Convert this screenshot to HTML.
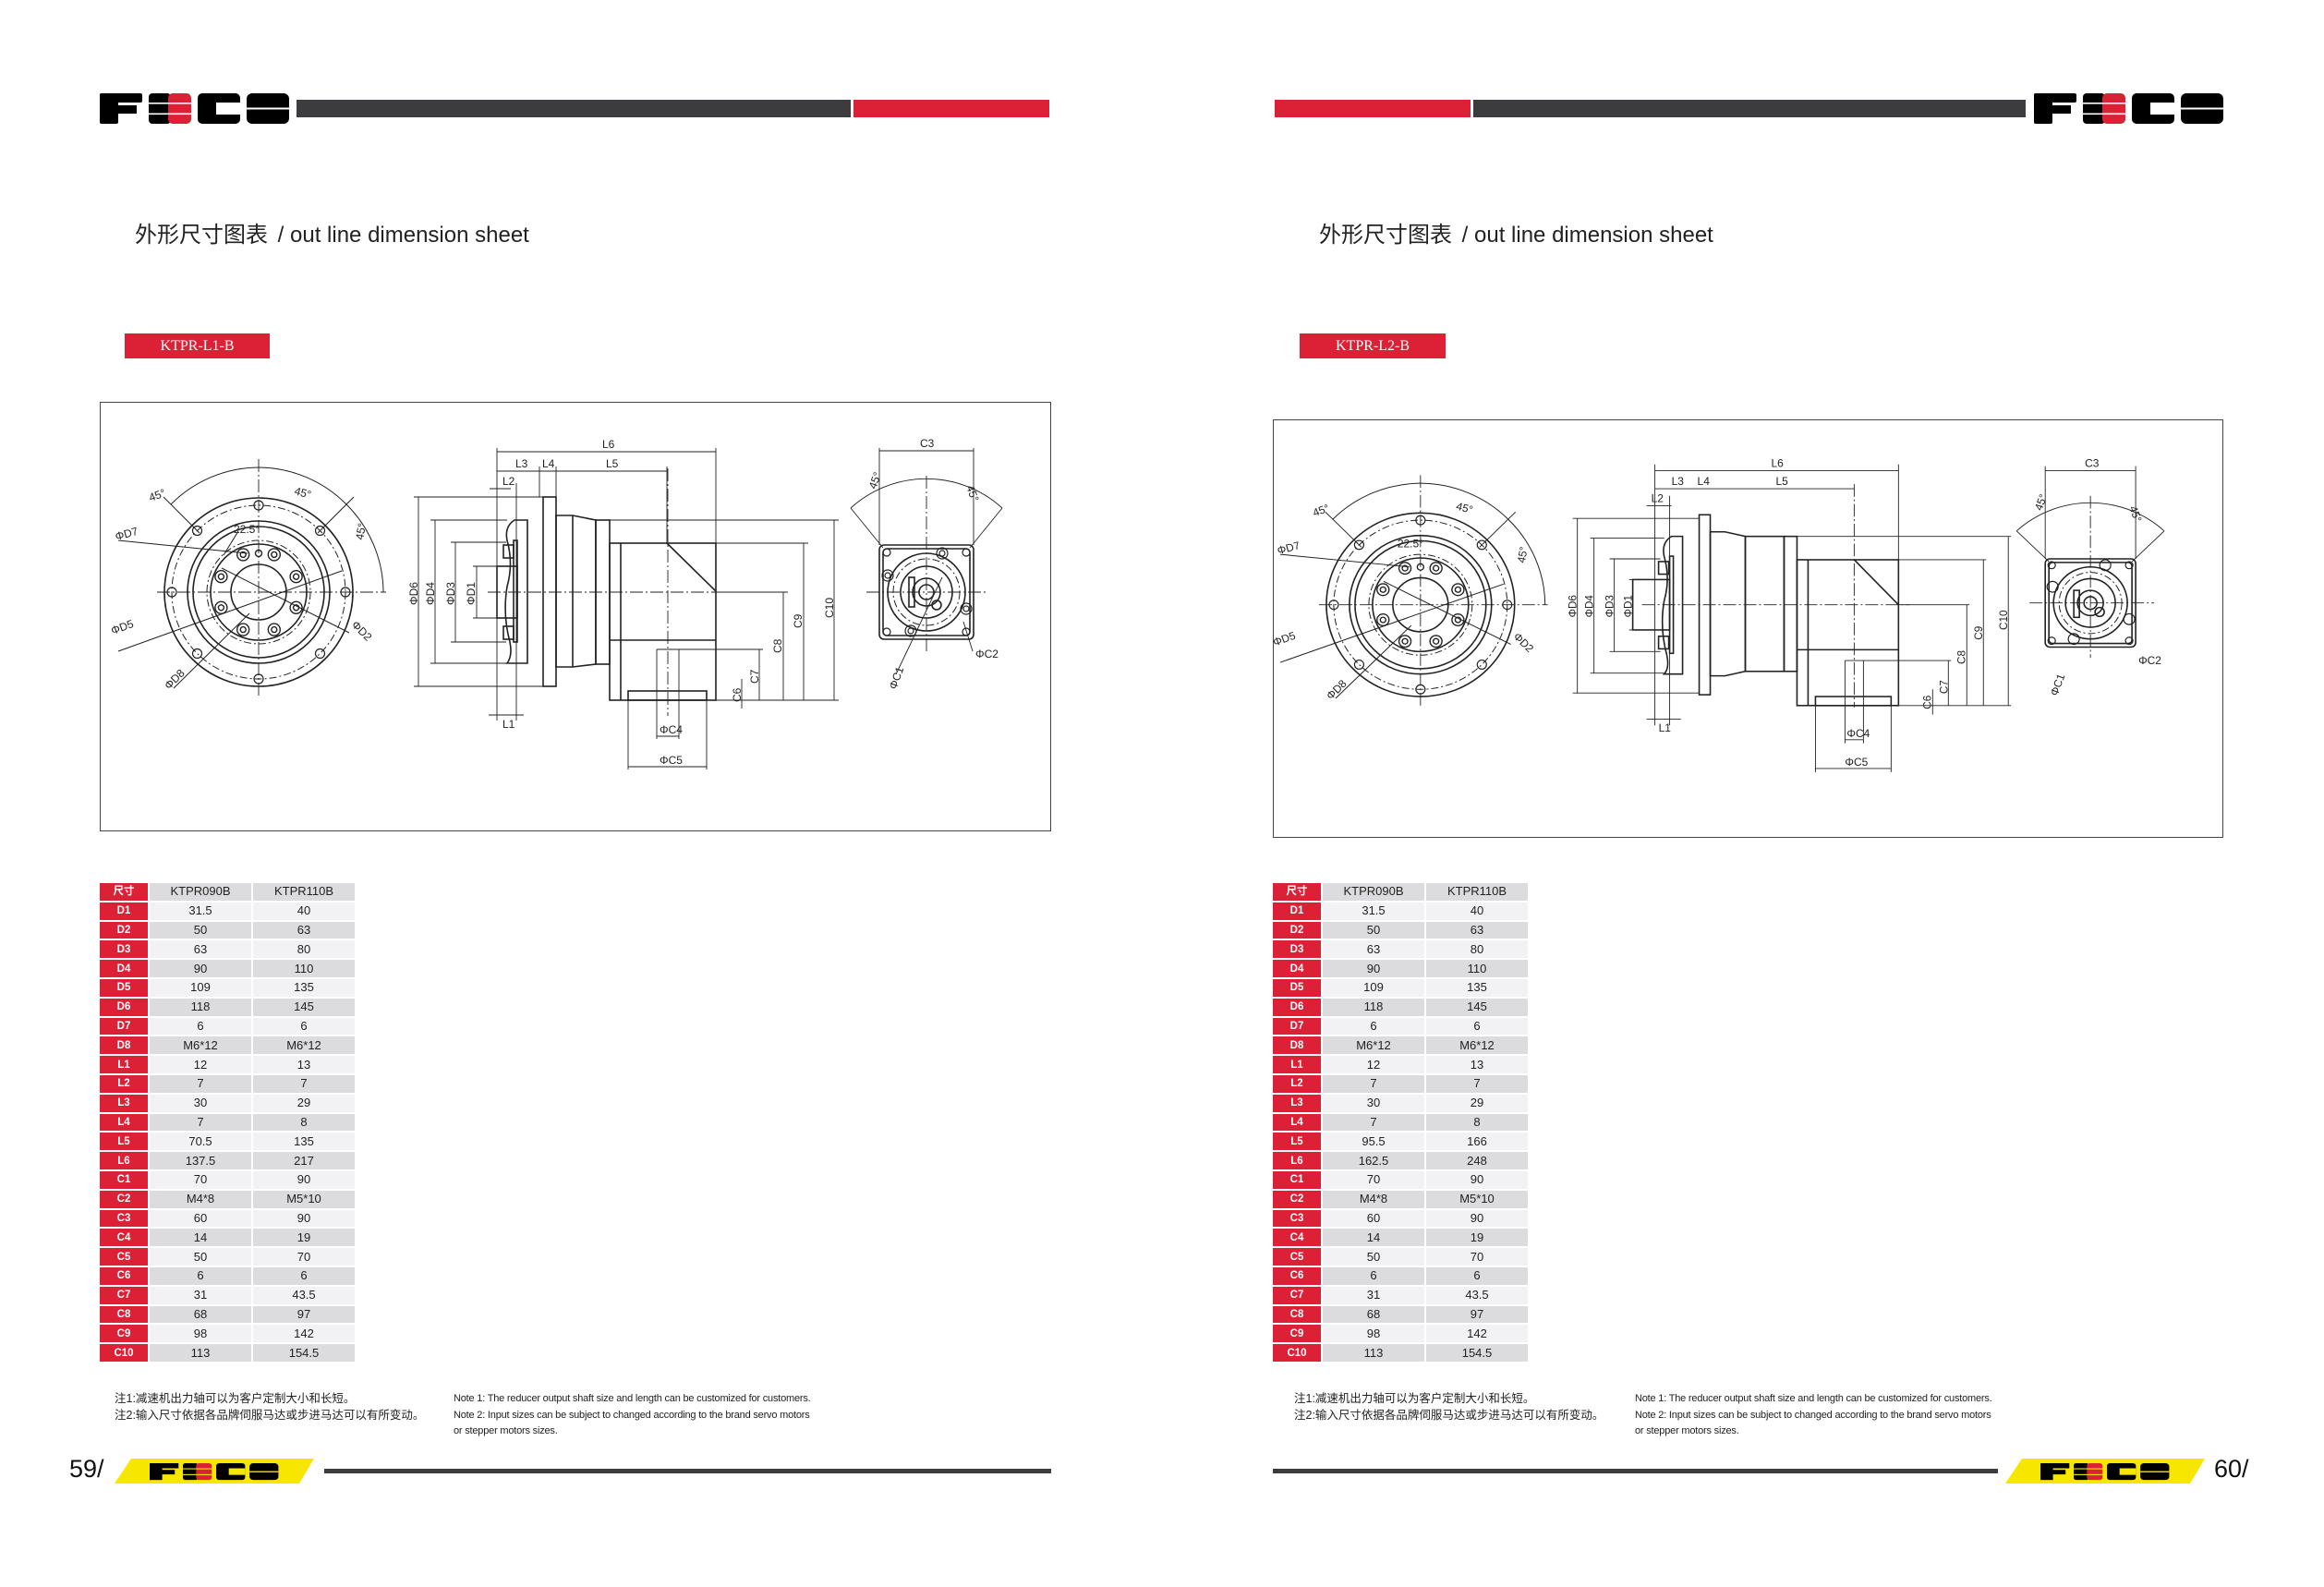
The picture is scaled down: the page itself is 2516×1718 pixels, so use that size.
<!DOCTYPE html>
<html><head><meta charset="utf-8">
<style>
*{margin:0;padding:0;box-sizing:border-box}
body{width:2516px;height:1718px;background:#fff;position:relative;overflow:hidden;font-family:"Liberation Sans","Noto Sans CJK SC",sans-serif;color:#222}
.a{position:absolute}
.title{font-size:24px;color:#222;white-space:nowrap}
.lab{background:#dc2035;color:#fff;font-family:"Liberation Serif","Noto Serif CJK SC",serif;font-size:16px;text-align:center;line-height:27px}
table{border-collapse:separate;border-spacing:2px;position:absolute}
td{height:18.8px;font-size:13px;text-align:center;padding:0;line-height:18px}
td.k{background:#dc2035;color:#fff;width:52px;font-weight:bold;font-size:11.5px}
td.v{width:110px}
tr.l td.v{background:#f2f2f4}
tr.g td.v{background:#dcdcde}
.note{font-size:12.5px;line-height:17.5px;white-space:nowrap;color:#222}
.noteE{font-size:11px;line-height:17.5px;white-space:nowrap;color:#222;letter-spacing:-0.2px}
.pg{font-size:27px;color:#111}
svg text{font-family:"Liberation Sans",sans-serif}
</style></head><body>

<!-- LEFT PAGE HEADER -->
<svg class="a" style="left:108px;top:101px" width="205" height="33" viewBox="0 0 205 33">
<rect x="0" y="0" width="46" height="10" rx="2" fill="#000"/><rect x="0" y="0" width="20" height="33" rx="2" fill="#000"/><rect x="0" y="13" width="40" height="9" fill="#000"/>
<rect x="53" y="0" width="24" height="33" rx="4" fill="#000"/><rect x="74" y="0" width="25" height="33" rx="5" fill="#dc2035"/><rect x="53" y="10" width="46" height="1.6" fill="#fff"/><rect x="53" y="21.5" width="46" height="1.6" fill="#fff"/>
<rect x="106" y="0" width="46" height="33" rx="5" fill="#000"/><rect x="126" y="10" width="26" height="13" fill="#fff"/>
<rect x="159" y="0" width="46" height="33" rx="6" fill="#000"/><rect x="159" y="15.5" width="46" height="2" fill="#fff"/>
</svg>
<div class="a" style="left:321px;top:108px;width:600px;height:19px;background:#3c3c3e"></div>
<div class="a" style="left:924px;top:108px;width:212px;height:19px;background:#dc2035"></div>
<div class="a title" style="left:146px;top:234px">外形尺寸图表 <span style="margin-left:4px">/ out line dimension sheet</span></div>
<div class="a lab" style="left:135px;top:361px;width:157px;height:27px">KTPR-L1-B</div>
<div class="a" style="left:108px;top:435px;width:1030px;height:465px;border:1.5px solid #444"></div>

<!-- RIGHT PAGE HEADER -->
<div class="a" style="left:1380px;top:108px;width:212px;height:19px;background:#dc2035"></div>
<div class="a" style="left:1595px;top:108px;width:598px;height:19px;background:#3c3c3e"></div>
<svg class="a" style="left:2202px;top:101px" width="205" height="33" viewBox="0 0 205 33">
<rect x="0" y="0" width="46" height="10" rx="2" fill="#000"/><rect x="0" y="0" width="20" height="33" rx="2" fill="#000"/><rect x="0" y="13" width="40" height="9" fill="#000"/>
<rect x="53" y="0" width="24" height="33" rx="4" fill="#000"/><rect x="74" y="0" width="25" height="33" rx="5" fill="#dc2035"/><rect x="53" y="10" width="46" height="1.6" fill="#fff"/><rect x="53" y="21.5" width="46" height="1.6" fill="#fff"/>
<rect x="106" y="0" width="46" height="33" rx="5" fill="#000"/><rect x="126" y="10" width="26" height="13" fill="#fff"/>
<rect x="159" y="0" width="46" height="33" rx="6" fill="#000"/><rect x="159" y="15.5" width="46" height="2" fill="#fff"/>
</svg>
<div class="a title" style="left:1428px;top:234px">外形尺寸图表 <span style="margin-left:4px">/ out line dimension sheet</span></div>
<div class="a lab" style="left:1407px;top:361px;width:158px;height:27px">KTPR-L2-B</div>
<div class="a" style="left:1378px;top:454px;width:1029px;height:453px;border:1.5px solid #444"></div>

<!-- DRAWINGS -->
<svg class="a" style="left:108px;top:435px" width="1030" height="465" viewBox="0 0 1030 465">
<g fill="none" stroke="#222" stroke-width="1.6">
<circle cx="172" cy="206" r="102"/><circle cx="172" cy="206" r="94" stroke-dasharray="8 3 2 3" stroke-width="1"/>
<circle cx="172" cy="206" r="77"/><circle cx="172" cy="206" r="71"/><circle cx="172" cy="206" r="56" stroke-dasharray="8 3 2 3" stroke-width="1"/><circle cx="172" cy="206" r="52"/><circle cx="172" cy="206" r="30"/>
<g stroke-width="1.2"><circle cx="266" cy="206" r="5"/><circle cx="78" cy="206" r="5"/><circle cx="172" cy="112" r="5"/><circle cx="172" cy="300" r="5"/><circle cx="238.5" cy="139.5" r="5"/><circle cx="105.5" cy="139.5" r="5"/><circle cx="238.5" cy="272.5" r="5"/><circle cx="105.5" cy="272.5" r="5"/></g>
<g stroke-width="1.4"><circle cx="212.6" cy="189.2" r="6.5"/><circle cx="131.4" cy="189.2" r="6.5"/><circle cx="212.6" cy="222.8" r="6.5"/><circle cx="131.4" cy="222.8" r="6.5"/><circle cx="188.8" cy="165.4" r="6.5"/><circle cx="155.2" cy="165.4" r="6.5"/><circle cx="188.8" cy="246.6" r="6.5"/><circle cx="155.2" cy="246.6" r="6.5"/>
<circle cx="212.6" cy="189.2" r="3"/><circle cx="131.4" cy="189.2" r="3"/><circle cx="212.6" cy="222.8" r="3"/><circle cx="131.4" cy="222.8" r="3"/><circle cx="188.8" cy="165.4" r="3"/><circle cx="155.2" cy="165.4" r="3"/><circle cx="188.8" cy="246.6" r="3"/><circle cx="155.2" cy="246.6" r="3"/><circle cx="172" cy="164" r="3.5"/></g>
<g stroke-width="0.9" stroke-dasharray="14 3 2 3"><line x1="62" y1="206" x2="310" y2="206"/><line x1="172" y1="62" x2="172" y2="320"/></g>
<g stroke-width="1"><path d="M77,111 A135,135 0 0 1 172,71 A135,135 0 0 1 267,111 A135,135 0 0 1 307,206"/>
<line x1="69" y1="103" x2="108" y2="142"/><line x1="275" y1="103" x2="236" y2="142"/>
<line x1="20" y1="150" x2="160" y2="164"/><line x1="20" y1="270" x2="262" y2="183"/><line x1="80" y1="310" x2="162" y2="229"/><line x1="270" y1="250" x2="132" y2="180"/>
<line x1="150" y1="140" x2="134" y2="166"/></g>
<g stroke-width="0.9" stroke-dasharray="14 3 2 3"><line x1="420" y1="206" x2="680" y2="206"/><line x1="615" y1="72" x2="615" y2="340"/></g>
<rect x="480" y="103" width="14" height="205"/>
<path d="M463,128 L449,128 Q438,135 441,150 Q448,175 441,200 Q436,230 444,260 Q447,275 441,283 L463,283 Z"/>
<rect x="448" y="150" width="4" height="110"/><rect x="430" y="178" width="22" height="56"/>
<rect x="437" y="155" width="11" height="14"/><rect x="437" y="243" width="11" height="14"/>
<path d="M494,123 L512,123 L537,128 L537,284 L512,287 L494,287 Z"/><line x1="512" y1="123" x2="512" y2="287"/>
<rect x="537" y="128" width="15" height="156"/>
<rect x="552" y="153" width="115" height="170"/><line x1="564" y1="153" x2="564" y2="323"/><line x1="552" y1="258" x2="667" y2="258"/>
<line x1="614" y1="153" x2="667" y2="205"/>
<rect x="572" y="313" width="85" height="10"/>
<g stroke-width="0.9">
<line x1="340" y1="103" x2="480" y2="103"/><line x1="340" y1="308" x2="480" y2="308"/><line x1="345" y1="103" x2="345" y2="308"/>
<line x1="358" y1="128" x2="441" y2="128"/><line x1="358" y1="283" x2="441" y2="283"/><line x1="363" y1="128" x2="363" y2="283"/>
<line x1="380" y1="152" x2="440" y2="152"/><line x1="380" y1="260" x2="440" y2="260"/><line x1="385" y1="152" x2="385" y2="260"/>
<line x1="404" y1="178" x2="430" y2="178"/><line x1="404" y1="234" x2="430" y2="234"/><line x1="408" y1="178" x2="408" y2="234"/>
<line x1="430" y1="50" x2="430" y2="345"/><line x1="667" y1="50" x2="667" y2="153"/><line x1="451" y1="88" x2="451" y2="345"/><line x1="476" y1="70" x2="476" y2="103"/><line x1="494" y1="70" x2="494" y2="103"/><line x1="614" y1="70" x2="614" y2="153"/>
<line x1="430" y1="54" x2="667" y2="54"/><line x1="430" y1="75" x2="614" y2="75"/>
<line x1="422" y1="94" x2="445" y2="94"/><line x1="421" y1="339" x2="459" y2="339"/>
<line x1="552" y1="128" x2="800" y2="128"/><line x1="667" y1="153" x2="767" y2="153"/><line x1="667" y1="206" x2="745" y2="206"/><line x1="603" y1="268" x2="718" y2="268"/><line x1="657" y1="323" x2="800" y2="323"/>
<line x1="795" y1="128" x2="795" y2="323"/><line x1="762" y1="153" x2="762" y2="323"/><line x1="740" y1="206" x2="740" y2="323"/><line x1="714" y1="268" x2="714" y2="323"/><line x1="695" y1="300" x2="695" y2="332"/>
<line x1="603" y1="268" x2="603" y2="365"/><line x1="627" y1="268" x2="627" y2="365"/><line x1="603" y1="362" x2="627" y2="362"/>
<line x1="572" y1="323" x2="572" y2="398"/><line x1="657" y1="323" x2="657" y2="398"/><line x1="572" y1="395" x2="657" y2="395"/>
</g>
<rect x="844" y="155" width="102" height="102" rx="5"/><rect x="848" y="159" width="94" height="94" rx="4"/>
<circle cx="895" cy="206" r="42"/><circle cx="895" cy="206" r="36" stroke-dasharray="8 3 2 3" stroke-width="1"/><circle cx="895" cy="206" r="28"/><circle cx="895" cy="206" r="15"/><circle cx="895" cy="206" r="8"/><circle cx="906" cy="220" r="5"/>
<g stroke-width="1.2"><circle cx="852" cy="163" r="4"/><circle cx="938" cy="163" r="4"/><circle cx="852" cy="249" r="4"/><circle cx="938" cy="249" r="4"/>
<circle cx="912" cy="164" r="6"/><circle cx="912" cy="164" r="3"/><circle cx="853" cy="188" r="6"/><circle cx="853" cy="188" r="3"/><circle cx="938" cy="224" r="6"/><circle cx="938" cy="224" r="3"/><circle cx="878" cy="248" r="6"/><circle cx="878" cy="248" r="3"/></g>
<rect x="876" y="190" width="6" height="32"/>
<g stroke-width="0.9"><path d="M813,115 A122,122 0 0 1 977,115"/><line x1="813" y1="115" x2="848" y2="158"/><line x1="977" y1="115" x2="942" y2="158"/>
<line x1="895" y1="80" x2="895" y2="270" stroke-dasharray="14 3 2 3"/><line x1="830" y1="206" x2="960" y2="206" stroke-dasharray="14 3 2 3"/>
<line x1="844" y1="50" x2="844" y2="155"/><line x1="946" y1="50" x2="946" y2="155"/><line x1="844" y1="53" x2="946" y2="53"/>
<line x1="862" y1="295" x2="912" y2="190"/><line x1="945" y1="270" x2="935" y2="238"/></g>
</g>
<g font-size="12" fill="#222">
<text x="55" y="108" transform="rotate(-20 55 108)">45°</text><text x="210" y="100" transform="rotate(15 210 100)">45°</text><text x="285" y="150" transform="rotate(-80 285 150)">45°</text>
<text x="145" y="142">22.5°</text>
<text x="18" y="150" transform="rotate(-15 18 150)">ΦD7</text><text x="14" y="252" transform="rotate(-20 14 252)">ΦD5</text><text x="75" y="312" transform="rotate(-45 75 312)">ΦD8</text><text x="272" y="242" transform="rotate(45 272 242)">ΦD2</text>
<text x="344" y="220" transform="rotate(-90 344 220)">ΦD6</text><text x="362" y="220" transform="rotate(-90 362 220)">ΦD4</text><text x="384" y="220" transform="rotate(-90 384 220)">ΦD3</text><text x="406" y="220" transform="rotate(-90 406 220)">ΦD1</text>
<text x="544" y="50">L6</text><text x="450" y="71">L3</text><text x="479" y="71">L4</text><text x="548" y="71">L5</text><text x="436" y="90">L2</text><text x="436" y="353">L1</text>
<text x="794" y="234" transform="rotate(-90 794 234)">C10</text><text x="760" y="245" transform="rotate(-90 760 245)">C9</text><text x="738" y="272" transform="rotate(-90 738 272)">C8</text><text x="713" y="305" transform="rotate(-90 713 305)">C7</text><text x="694" y="325" transform="rotate(-90 694 325)">C6</text>
<text x="606" y="359">ΦC4</text><text x="606" y="392">ΦC5</text>
<text x="888" y="49">C3</text><text x="840" y="95" transform="rotate(-70 840 95)">45°</text><text x="938" y="92" transform="rotate(70 938 92)">45°</text>
<text x="862" y="312" transform="rotate(-70 862 312)">ΦC1</text><text x="948" y="277">ΦC2</text>
</g>
</svg>

<svg class="a" style="left:1378px;top:454px" width="1029" height="453" viewBox="0 0 1030 465" preserveAspectRatio="none">
<g fill="none" stroke="#222" stroke-width="1.6" transform="translate(-12,0)">
<circle cx="172" cy="206" r="102"/><circle cx="172" cy="206" r="94" stroke-dasharray="8 3 2 3" stroke-width="1"/>
<circle cx="172" cy="206" r="77"/><circle cx="172" cy="206" r="71"/><circle cx="172" cy="206" r="56" stroke-dasharray="8 3 2 3" stroke-width="1"/><circle cx="172" cy="206" r="52"/><circle cx="172" cy="206" r="30"/>
<g stroke-width="1.2"><circle cx="266" cy="206" r="5"/><circle cx="78" cy="206" r="5"/><circle cx="172" cy="112" r="5"/><circle cx="172" cy="300" r="5"/><circle cx="238.5" cy="139.5" r="5"/><circle cx="105.5" cy="139.5" r="5"/><circle cx="238.5" cy="272.5" r="5"/><circle cx="105.5" cy="272.5" r="5"/></g>
<g stroke-width="1.4"><circle cx="212.6" cy="189.2" r="6.5"/><circle cx="131.4" cy="189.2" r="6.5"/><circle cx="212.6" cy="222.8" r="6.5"/><circle cx="131.4" cy="222.8" r="6.5"/><circle cx="188.8" cy="165.4" r="6.5"/><circle cx="155.2" cy="165.4" r="6.5"/><circle cx="188.8" cy="246.6" r="6.5"/><circle cx="155.2" cy="246.6" r="6.5"/>
<circle cx="212.6" cy="189.2" r="3"/><circle cx="131.4" cy="189.2" r="3"/><circle cx="212.6" cy="222.8" r="3"/><circle cx="131.4" cy="222.8" r="3"/><circle cx="188.8" cy="165.4" r="3"/><circle cx="155.2" cy="165.4" r="3"/><circle cx="188.8" cy="246.6" r="3"/><circle cx="155.2" cy="246.6" r="3"/><circle cx="172" cy="164" r="3.5"/></g>
<g stroke-width="0.9" stroke-dasharray="14 3 2 3"><line x1="62" y1="206" x2="310" y2="206"/><line x1="172" y1="62" x2="172" y2="320"/></g>
<g stroke-width="1"><path d="M77,111 A135,135 0 0 1 172,71 A135,135 0 0 1 267,111 A135,135 0 0 1 307,206"/>
<line x1="69" y1="103" x2="108" y2="142"/><line x1="275" y1="103" x2="236" y2="142"/>
<line x1="20" y1="150" x2="160" y2="164"/><line x1="20" y1="270" x2="262" y2="183"/><line x1="80" y1="310" x2="162" y2="229"/><line x1="270" y1="250" x2="132" y2="180"/></g>
</g>
<g fill="none" stroke="#222" stroke-width="1.6">
<g stroke-width="0.9" stroke-dasharray="14 3 2 3"><line x1="400" y1="206" x2="690" y2="206"/><line x1="630" y1="72" x2="630" y2="320"/></g>
<rect x="462" y="106" width="12" height="200"/>
<path d="M444,130 L432,130 Q421,137 424,152 Q431,177 424,202 Q419,232 427,262 Q430,277 424,283 L444,283 Z"/>
<rect x="430" y="152" width="4" height="108"/><rect x="390" y="178" width="40" height="56"/>
<rect x="418" y="158" width="11" height="14"/><rect x="418" y="241" width="11" height="14"/>
<path d="M474,125 L490,125 L512,130 L512,280 L490,285 L474,285 Z"/>
<rect x="512" y="130" width="42" height="150"/><rect x="554" y="130" width="14" height="150"/>
<rect x="568" y="156" width="110" height="162"/><line x1="580" y1="156" x2="580" y2="318"/><line x1="568" y1="256" x2="678" y2="256"/>
<line x1="630" y1="156" x2="678" y2="206"/>
<rect x="588" y="308" width="82" height="10"/>
<g stroke-width="0.9">
<line x1="325" y1="110" x2="462" y2="110"/><line x1="325" y1="304" x2="462" y2="304"/><line x1="330" y1="110" x2="330" y2="304"/>
<line x1="344" y1="132" x2="424" y2="132"/><line x1="344" y1="282" x2="424" y2="282"/><line x1="348" y1="132" x2="348" y2="282"/>
<line x1="365" y1="155" x2="420" y2="155"/><line x1="365" y1="258" x2="420" y2="258"/><line x1="370" y1="155" x2="370" y2="258"/>
<line x1="386" y1="178" x2="395" y2="178"/><line x1="386" y1="234" x2="395" y2="234"/>
<line x1="414" y1="50" x2="414" y2="340"/><line x1="678" y1="50" x2="678" y2="156"/><line x1="430" y1="85" x2="430" y2="340"/>
<line x1="414" y1="57" x2="678" y2="57"/><line x1="414" y1="77" x2="630" y2="77"/>
<line x1="405" y1="96" x2="432" y2="96"/><line x1="405" y1="333" x2="442" y2="333"/>
<line x1="568" y1="130" x2="800" y2="130"/><line x1="678" y1="156" x2="773" y2="156"/><line x1="678" y1="206" x2="755" y2="206"/><line x1="620" y1="268" x2="735" y2="268"/><line x1="670" y1="318" x2="800" y2="318"/>
<line x1="797" y1="130" x2="797" y2="318"/><line x1="770" y1="156" x2="770" y2="318"/><line x1="752" y1="206" x2="752" y2="318"/><line x1="732" y1="268" x2="732" y2="318"/><line x1="715" y1="300" x2="715" y2="328"/>
<line x1="620" y1="268" x2="620" y2="360"/><line x1="640" y1="268" x2="640" y2="360"/><line x1="620" y1="356" x2="640" y2="356"/>
<line x1="588" y1="318" x2="588" y2="392"/><line x1="670" y1="318" x2="670" y2="392"/><line x1="588" y1="388" x2="670" y2="388"/>
</g>
<rect x="837" y="155" width="98" height="98" rx="5"/><rect x="841" y="159" width="90" height="90" rx="4"/>
<circle cx="886" cy="204" r="40"/><circle cx="886" cy="204" r="34" stroke-dasharray="8 3 2 3" stroke-width="1"/><circle cx="886" cy="204" r="27"/><circle cx="886" cy="204" r="14"/><circle cx="886" cy="204" r="7"/><circle cx="896" cy="214" r="5"/>
<g stroke-width="1.2"><circle cx="844" cy="162" r="4"/><circle cx="928" cy="162" r="4"/><circle cx="844" cy="246" r="4"/><circle cx="928" cy="246" r="4"/>
<circle cx="902" cy="162" r="6"/><circle cx="845" cy="186" r="6"/><circle cx="928" cy="222" r="6"/><circle cx="868" cy="244" r="6"/></g>
<rect x="868" y="190" width="6" height="30"/>
<g stroke-width="0.9"><path d="M806,124 A118,118 0 0 1 966,124"/><line x1="806" y1="124" x2="841" y2="158"/><line x1="966" y1="124" x2="931" y2="158"/>
<line x1="886" y1="85" x2="886" y2="265" stroke-dasharray="14 3 2 3"/><line x1="820" y1="204" x2="955" y2="204" stroke-dasharray="14 3 2 3"/>
<line x1="837" y1="52" x2="837" y2="155"/><line x1="935" y1="52" x2="935" y2="155"/><line x1="837" y1="57" x2="935" y2="57"/></g>
</g>
<g font-size="12" fill="#222">
<text x="45" y="108" transform="rotate(-20 45 108)">45°</text><text x="198" y="100" transform="rotate(15 198 100)">45°</text><text x="273" y="160" transform="rotate(-80 273 160)">45°</text>
<text x="135" y="142">22.5°</text>
<text x="6" y="150" transform="rotate(-15 6 150)">ΦD7</text><text x="2" y="252" transform="rotate(-20 2 252)">ΦD5</text><text x="63" y="312" transform="rotate(-45 63 312)">ΦD8</text><text x="260" y="242" transform="rotate(45 260 242)">ΦD2</text>
<text x="329" y="220" transform="rotate(-90 329 220)">ΦD6</text><text x="347" y="220" transform="rotate(-90 347 220)">ΦD4</text><text x="369" y="220" transform="rotate(-90 369 220)">ΦD3</text><text x="389" y="220" transform="rotate(-90 389 220)">ΦD1</text>
<text x="540" y="53">L6</text><text x="432" y="73">L3</text><text x="460" y="73">L4</text><text x="545" y="73">L5</text><text x="410" y="92">L2</text><text x="418" y="347">L1</text>
<text x="796" y="234" transform="rotate(-90 796 234)">C10</text><text x="769" y="245" transform="rotate(-90 769 245)">C9</text><text x="750" y="272" transform="rotate(-90 750 272)">C8</text><text x="731" y="305" transform="rotate(-90 731 305)">C7</text><text x="713" y="322" transform="rotate(-90 713 322)">C6</text>
<text x="622" y="353">ΦC4</text><text x="620" y="385">ΦC5</text>
<text x="880" y="53">C3</text><text x="833" y="102" transform="rotate(-70 833 102)">45°</text><text x="928" y="98" transform="rotate(70 928 98)">45°</text>
<text x="850" y="308" transform="rotate(-70 850 308)">ΦC1</text><text x="938" y="272">ΦC2</text>
</g>
</svg>

<!-- TABLES -->
<table style="left:106px;top:954px">
<tr class="g"><td class="k">尺寸</td><td class="v">KTPR090B</td><td class="v">KTPR110B</td></tr>
<tr class="l"><td class="k">D1</td><td class="v">31.5</td><td class="v">40</td></tr>
<tr class="g"><td class="k">D2</td><td class="v">50</td><td class="v">63</td></tr>
<tr class="l"><td class="k">D3</td><td class="v">63</td><td class="v">80</td></tr>
<tr class="g"><td class="k">D4</td><td class="v">90</td><td class="v">110</td></tr>
<tr class="l"><td class="k">D5</td><td class="v">109</td><td class="v">135</td></tr>
<tr class="g"><td class="k">D6</td><td class="v">118</td><td class="v">145</td></tr>
<tr class="l"><td class="k">D7</td><td class="v">6</td><td class="v">6</td></tr>
<tr class="g"><td class="k">D8</td><td class="v">M6*12</td><td class="v">M6*12</td></tr>
<tr class="l"><td class="k">L1</td><td class="v">12</td><td class="v">13</td></tr>
<tr class="g"><td class="k">L2</td><td class="v">7</td><td class="v">7</td></tr>
<tr class="l"><td class="k">L3</td><td class="v">30</td><td class="v">29</td></tr>
<tr class="g"><td class="k">L4</td><td class="v">7</td><td class="v">8</td></tr>
<tr class="l"><td class="k">L5</td><td class="v">70.5</td><td class="v">135</td></tr>
<tr class="g"><td class="k">L6</td><td class="v">137.5</td><td class="v">217</td></tr>
<tr class="l"><td class="k">C1</td><td class="v">70</td><td class="v">90</td></tr>
<tr class="g"><td class="k">C2</td><td class="v">M4*8</td><td class="v">M5*10</td></tr>
<tr class="l"><td class="k">C3</td><td class="v">60</td><td class="v">90</td></tr>
<tr class="g"><td class="k">C4</td><td class="v">14</td><td class="v">19</td></tr>
<tr class="l"><td class="k">C5</td><td class="v">50</td><td class="v">70</td></tr>
<tr class="g"><td class="k">C6</td><td class="v">6</td><td class="v">6</td></tr>
<tr class="l"><td class="k">C7</td><td class="v">31</td><td class="v">43.5</td></tr>
<tr class="g"><td class="k">C8</td><td class="v">68</td><td class="v">97</td></tr>
<tr class="l"><td class="k">C9</td><td class="v">98</td><td class="v">142</td></tr>
<tr class="g"><td class="k">C10</td><td class="v">113</td><td class="v">154.5</td></tr>
</table>
<table style="left:1376px;top:954px">
<tr class="g"><td class="k">尺寸</td><td class="v">KTPR090B</td><td class="v">KTPR110B</td></tr>
<tr class="l"><td class="k">D1</td><td class="v">31.5</td><td class="v">40</td></tr>
<tr class="g"><td class="k">D2</td><td class="v">50</td><td class="v">63</td></tr>
<tr class="l"><td class="k">D3</td><td class="v">63</td><td class="v">80</td></tr>
<tr class="g"><td class="k">D4</td><td class="v">90</td><td class="v">110</td></tr>
<tr class="l"><td class="k">D5</td><td class="v">109</td><td class="v">135</td></tr>
<tr class="g"><td class="k">D6</td><td class="v">118</td><td class="v">145</td></tr>
<tr class="l"><td class="k">D7</td><td class="v">6</td><td class="v">6</td></tr>
<tr class="g"><td class="k">D8</td><td class="v">M6*12</td><td class="v">M6*12</td></tr>
<tr class="l"><td class="k">L1</td><td class="v">12</td><td class="v">13</td></tr>
<tr class="g"><td class="k">L2</td><td class="v">7</td><td class="v">7</td></tr>
<tr class="l"><td class="k">L3</td><td class="v">30</td><td class="v">29</td></tr>
<tr class="g"><td class="k">L4</td><td class="v">7</td><td class="v">8</td></tr>
<tr class="l"><td class="k">L5</td><td class="v">95.5</td><td class="v">166</td></tr>
<tr class="g"><td class="k">L6</td><td class="v">162.5</td><td class="v">248</td></tr>
<tr class="l"><td class="k">C1</td><td class="v">70</td><td class="v">90</td></tr>
<tr class="g"><td class="k">C2</td><td class="v">M4*8</td><td class="v">M5*10</td></tr>
<tr class="l"><td class="k">C3</td><td class="v">60</td><td class="v">90</td></tr>
<tr class="g"><td class="k">C4</td><td class="v">14</td><td class="v">19</td></tr>
<tr class="l"><td class="k">C5</td><td class="v">50</td><td class="v">70</td></tr>
<tr class="g"><td class="k">C6</td><td class="v">6</td><td class="v">6</td></tr>
<tr class="l"><td class="k">C7</td><td class="v">31</td><td class="v">43.5</td></tr>
<tr class="g"><td class="k">C8</td><td class="v">68</td><td class="v">97</td></tr>
<tr class="l"><td class="k">C9</td><td class="v">98</td><td class="v">142</td></tr>
<tr class="g"><td class="k">C10</td><td class="v">113</td><td class="v">154.5</td></tr>
</table>

<!-- NOTES -->
<div class="a note" style="left:124px;top:1506px">注1:减速机出力轴可以为客户定制大小和长短。<br>注2:输入尺寸依据各品牌伺服马达或步进马达可以有所变动。</div>
<div class="a noteE" style="left:491px;top:1506px">Note 1: The reducer output shaft size and length can be customized for customers.<br>Note 2: Input sizes can be subject to changed according to the brand servo motors<br>or stepper motors sizes.</div>
<div class="a note" style="left:1401px;top:1506px">注1:减速机出力轴可以为客户定制大小和长短。<br>注2:输入尺寸依据各品牌伺服马达或步进马达可以有所变动。</div>
<div class="a noteE" style="left:1770px;top:1506px">Note 1: The reducer output shaft size and length can be customized for customers.<br>Note 2: Input sizes can be subject to changed according to the brand servo motors<br>or stepper motors sizes.</div>

<!-- FOOTERS -->
<div class="a pg" style="left:75px;top:1575px">59/</div>
<svg class="a" style="left:124px;top:1579px" width="216" height="27" viewBox="0 0 216 27">
<polygon points="18,0 216,0 200,27 0,27" fill="#f7e600"/>
<g transform="translate(38,5) scale(0.68,0.55)">
<rect x="0" y="0" width="46" height="10" fill="#000"/><rect x="0" y="0" width="20" height="33" fill="#000"/><rect x="0" y="13" width="40" height="9" fill="#000"/>
<rect x="53" y="0" width="24" height="33" rx="4" fill="#000"/><rect x="74" y="0" width="25" height="33" rx="5" fill="#dc2035"/><rect x="53" y="10" width="46" height="2" fill="#f7e600"/><rect x="53" y="21.5" width="46" height="2" fill="#f7e600"/>
<rect x="106" y="0" width="46" height="33" rx="5" fill="#000"/><rect x="126" y="10" width="26" height="13" fill="#f7e600"/>
<rect x="159" y="0" width="46" height="33" rx="6" fill="#000"/><rect x="159" y="15.5" width="46" height="2.5" fill="#f7e600"/>
</g></svg>
<div class="a" style="left:351px;top:1590px;width:787px;height:5px;background:#3c3c3e"></div>

<div class="a" style="left:1378px;top:1590px;width:785px;height:5px;background:#3c3c3e"></div>
<svg class="a" style="left:2171px;top:1579px" width="216" height="27" viewBox="0 0 216 27">
<polygon points="18,0 216,0 200,27 0,27" fill="#f7e600"/>
<g transform="translate(38,5) scale(0.68,0.55)">
<rect x="0" y="0" width="46" height="10" fill="#000"/><rect x="0" y="0" width="20" height="33" fill="#000"/><rect x="0" y="13" width="40" height="9" fill="#000"/>
<rect x="53" y="0" width="24" height="33" rx="4" fill="#000"/><rect x="74" y="0" width="25" height="33" rx="5" fill="#dc2035"/><rect x="53" y="10" width="46" height="2" fill="#f7e600"/><rect x="53" y="21.5" width="46" height="2" fill="#f7e600"/>
<rect x="106" y="0" width="46" height="33" rx="5" fill="#000"/><rect x="126" y="10" width="26" height="13" fill="#f7e600"/>
<rect x="159" y="0" width="46" height="33" rx="6" fill="#000"/><rect x="159" y="15.5" width="46" height="2.5" fill="#f7e600"/>
</g></svg>
<div class="a pg" style="left:2397px;top:1575px">60/</div>
</body></html>
